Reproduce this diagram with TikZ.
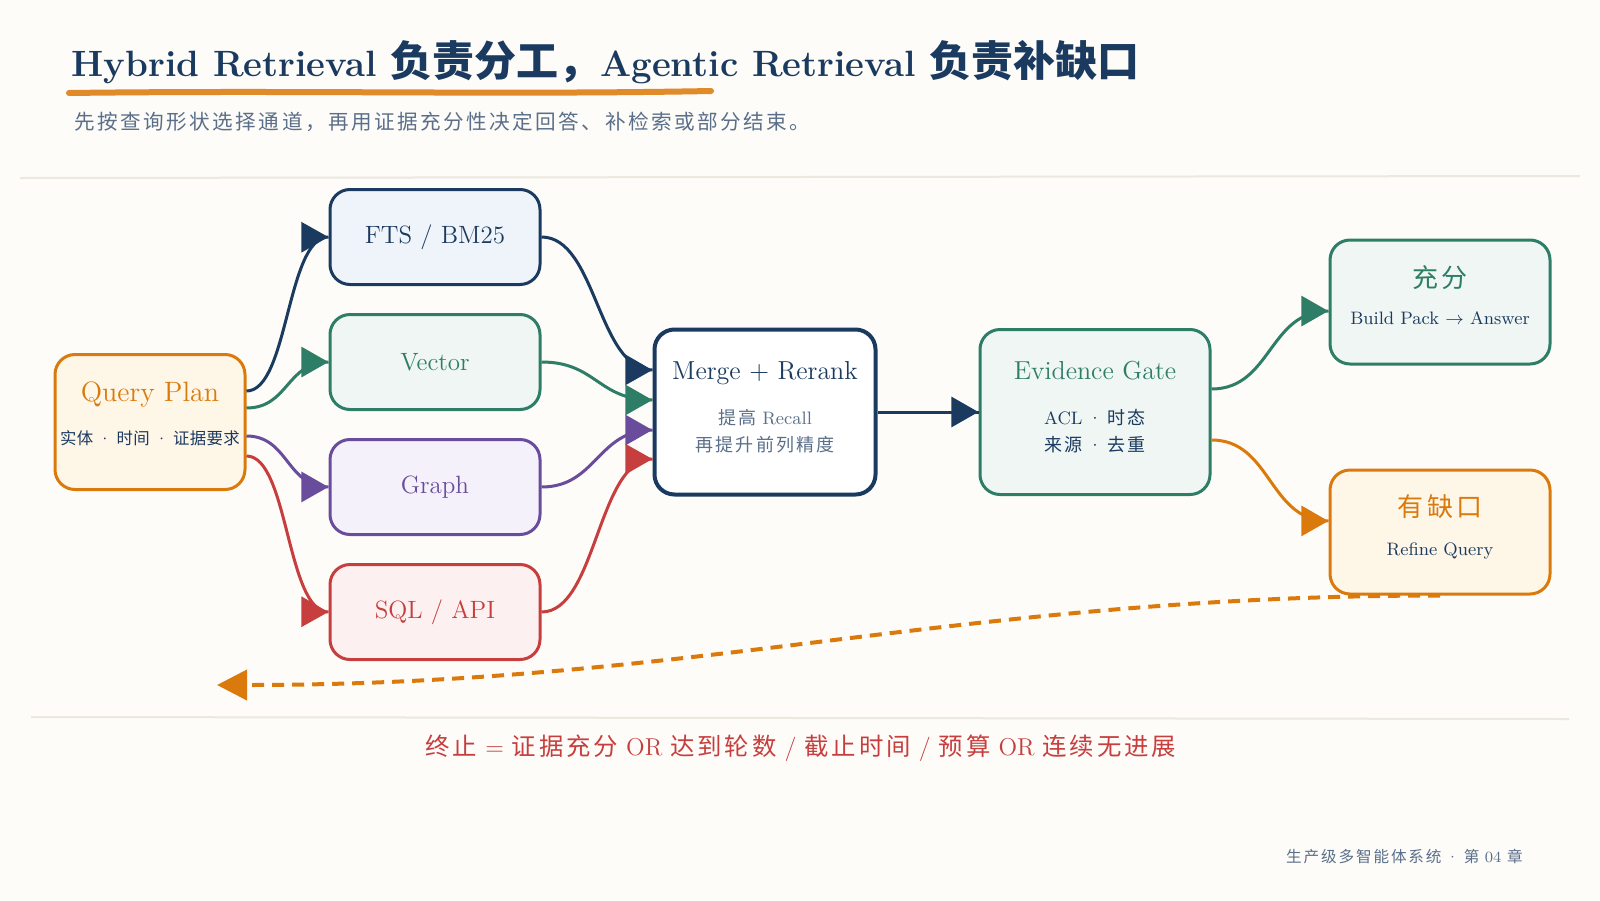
\documentclass[tikz,border=0pt]{standalone}
\usepackage{fontspec}
\newfontfamily\cjk{Noto Sans CJK SC}
\newfontfamily\cjkwide{Noto Sans CJK SC}[LetterSpace=12]
\newfontfamily\cjknote{Noto Sans CJK SC}[LetterSpace=2]
\usetikzlibrary{arrows.meta,calc,decorations.markings}
\definecolor{navy}{HTML}{1B3A60}
\definecolor{slate}{HTML}{5B6F8A}
\definecolor{qorange}{HTML}{DB7A0C}
\definecolor{qgreen}{HTML}{2E7D66}
\definecolor{qpurple}{HTML}{6A4C9C}
\definecolor{qred}{HTML}{C73E3E}
\definecolor{paper}{HTML}{FDFCF8}
\definecolor{rulecol}{HTML}{ECE8DF}
\definecolor{markcol}{HTML}{E08A2A}
\definecolor{fillblue}{HTML}{EFF4FA}
\definecolor{fillgreen}{HTML}{EFF6F3}
\definecolor{fillpurple}{HTML}{F4F1FA}
\definecolor{fillred}{HTML}{FDF0F0}
\definecolor{fillorange}{HTML}{FEF6E7}
\newcommand{\boxhead}[1]{{\fontsize{13}{16}\selectfont #1}}
\newcommand{\bigcjk}[1]{{\fontsize{21}{22}\selectfont\cjk #1}}
\newcommand{\lift}[1]{\rule[-#1]{0pt}{#1}}
\newcommand{\sep}{\hspace{0.3em}\textperiodcentered\hspace{0.3em}}

\begin{document}
\begin{tikzpicture}[x=0.5pt,y=-0.5pt,
	box/.style={draw, line width=1.5pt, rounded corners=10pt, align=center, inner sep=0pt,
		font=\fontsize{9}{13.5}\selectfont},
	lane/.style={box, minimum width=105pt, minimum height=47.5pt, font=\fontsize{12.5}{15}\selectfont},
	link/.style={line width=1.5pt, postaction=decorate, decoration={markings,
		mark=at position 0.999 with {\arrow{Triangle[length=13.5pt,width=15pt]}}}}]
	\fill[paper] (0,0) rectangle (1600,900);
	\useasboundingbox (0,0) rectangle (1600,900);

	\node[anchor=base west, inner sep=0pt, text=navy, font=\fontsize{18.3}{22}\selectfont\bfseries] (title) at (71,76)
		{Hybrid Retrieval \bigcjk{负责分工，}Agentic Retrieval \bigcjk{负责补缺口}};
	\draw[markcol, line width=3pt, line cap=round] (69,93) .. controls (300,90) and (500,95) .. (711,91);
	\node[anchor=base west, inner sep=0pt, text=slate, font=\fontsize{10.3}{12}\selectfont\cjkwide] (lede) at (74,129)
		{先按查询形状选择通道，再用证据充分性决定回答、补检索或部分结束。};
	\draw[rulecol, line width=1pt] (20,178) -- (1580,176);
	\draw[rulecol, line width=1pt] (31,717) -- (1569,719);

	\node[box, draw=qorange, fill=fillorange, text=navy, minimum width=95pt, minimum height=67.5pt] (qp) at (150,422)
		{\boxhead{\color{qorange}\fontsize{14}{16}\selectfont Query Plan}\\[8pt]{\fontsize{8.2}{13.5}\selectfont{\cjknote 实体}\sep{\cjknote 时间}\sep{\cjknote 证据要求}}\lift{9pt}};

	\node[lane, draw=navy, fill=fillblue, text=navy] (fts) at (435,237) {FTS / BM25};
	\node[lane, draw=qgreen, fill=fillgreen, text=qgreen] (vec) at (435,362) {Vector};
	\node[lane, draw=qpurple, fill=fillpurple, text=qpurple] (graph) at (435,487) {Graph};
	\node[lane, draw=qred, fill=fillred, text=qred] (sql) at (435,612) {SQL / API};

	\node[box, draw=navy, line width=2pt, fill=white, text=slate, minimum width=110.5pt, minimum height=82.5pt] (merge) at (765,412)
		{\boxhead{\color{navy}Merge + Rerank}\\[9pt]{\cjkwide 提高} Recall\\{\cjkwide 再提升前列精度}\lift{6pt}};
	\node[box, draw=qgreen, fill=fillgreen, text=navy, minimum width=115pt, minimum height=82.5pt] (gate) at (1095,412)
		{\boxhead{\color{qgreen}Evidence Gate}\\[9pt]ACL\sep{\cjkwide 时态}\\{\cjkwide 来源}\sep{\cjkwide 去重}\lift{6pt}};

	\node[box, draw=qgreen, fill=fillgreen, text=navy, minimum width=110pt, minimum height=62pt] (ok) at (1440,302)
		{\boxhead{\color{qgreen}\cjkwide 充分}\\[5pt]Build Pack $\to$ Answer\lift{7pt}};
	\node[box, draw=qorange, fill=fillorange, text=navy, minimum width=110pt, minimum height=62pt] (gap) at (1440,532)
		{\boxhead{\color{qorange}\cjkwide 有缺口}\\[6pt]Refine Query\lift{7pt}};

	\draw[link, navy] ($(qp.east)+(0,-31)$) .. controls +(42,0) and +(-42,0) .. (fts.west);
	\draw[link, qgreen] ($(qp.east)+(0,-14)$) .. controls +(42,0) and +(-42,0) .. (vec.west);
	\draw[link, qpurple] ($(qp.east)+(0,14)$) .. controls +(42,0) and +(-42,0) .. (graph.west);
	\draw[link, qred] ($(qp.east)+(0,34)$) .. controls +(42,0) and +(-42,0) .. (sql.west);

	\draw[link, navy] (fts.east) .. controls +(55,0) and +(-55,0) .. ($(merge.west)+(0,-42)$);
	\draw[link, qgreen] (vec.east) .. controls +(55,0) and +(-55,0) .. ($(merge.west)+(0,-12)$);
	\draw[link, qpurple] (graph.east) .. controls +(55,0) and +(-55,0) .. ($(merge.west)+(0,18)$);
	\draw[link, qred] (sql.east) .. controls +(55,0) and +(-55,0) .. ($(merge.west)+(0,47)$);

	\draw[link, navy] (merge.east) -- (gate.west);
	\draw[link, qgreen] ($(gate.east)+(0,-23)$) .. controls +(60,0) and +(-60,0) .. ($(ok.west)+(0,9)$);
	\draw[link, qorange] ($(gate.east)+(0,28)$) .. controls +(60,0) and +(-60,0) .. ($(gap.west)+(0,-11)$);

	\coordinate (back) at (217,685);
	\draw[qorange, line width=2pt, dash pattern=on 6pt off 4pt, -{Triangle[length=15pt,width=15pt]}] (gap.south) to[out=180,in=0] (back);

	\node[anchor=base, inner sep=0pt, text=qred, font=\fontsize{12.2}{14}\selectfont] (stop) at (801,755)
		{{\cjkwide 终止} = {\cjkwide 证据充分} OR {\cjkwide 达到轮数} / {\cjkwide 截止时间} / {\cjkwide 预算} OR {\cjkwide 连续无进展}};
	\node[anchor=base east, inner sep=0pt, text=slate, font=\fontsize{7.8}{10}\selectfont] (foot) at (1523,862)
		{{\cjkwide 生产级多智能体系统}\sep{\cjkwide 第} 04 {\cjkwide 章}};
\end{tikzpicture}
\end{document}
